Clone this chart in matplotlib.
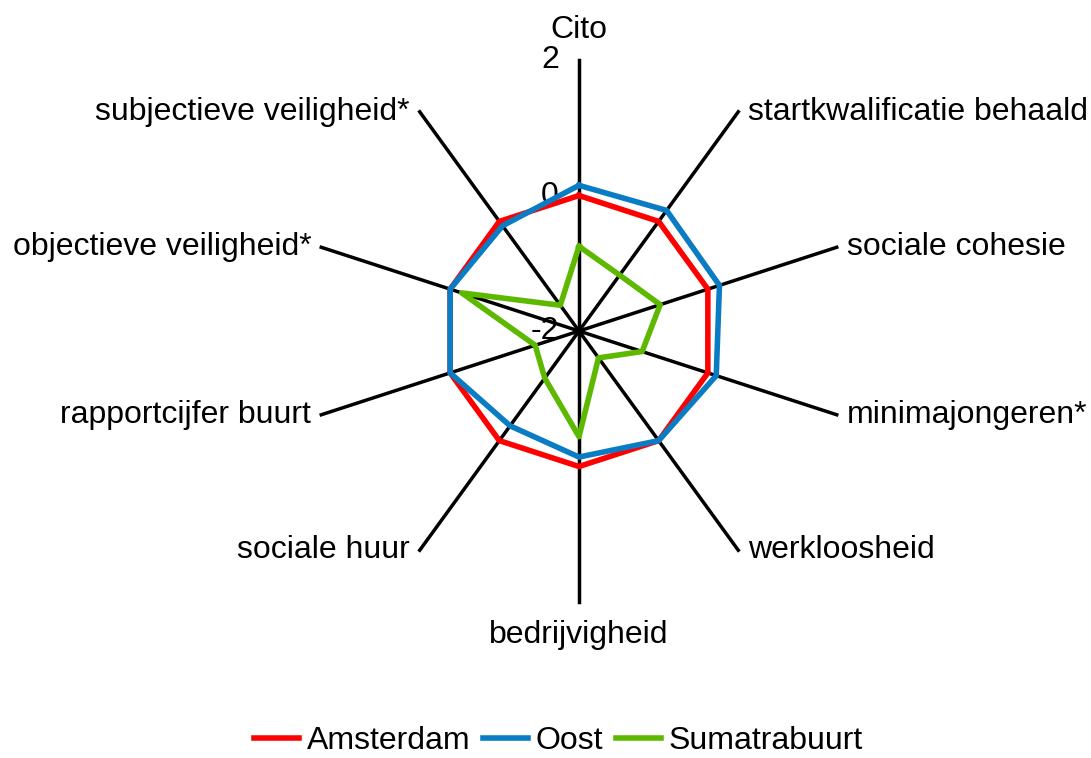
import numpy as np
import matplotlib.pyplot as plt

plt.rcParams['font.family'] = ['Liberation Sans', 'DejaVu Sans']

categories = ['Cito', 'startkwalificatie behaald', 'sociale cohesie', 'minimajongeren*',
              'werkloosheid', 'bedrijvigheid', 'sociale huur', 'rapportcijfer buurt',
              'objectieve veiligheid*', 'subjectieve veiligheid*']
amsterdam = [0.0, 0.0, 0.0, 0.0, 0.0, 0.0, 0.0, 0.0, 0.0, 0.0]
oost = [0.15, 0.2, 0.18, 0.13, 0.0, -0.14, -0.27, 0.0, 0.0, -0.08]
sumatrabuurt = [-0.75, -0.98, -0.74, -1.02, -1.51, -0.44, -1.14, -1.32, -0.18, -1.53]
r_ticks = [-2, 0, 2]

series = [('Amsterdam', amsterdam, '#FF0000'),
          ('Oost', oost, '#0A7CC4'),
          ('Sumatrabuurt', sumatrabuurt, '#5DB900')]

n = len(categories)
theta = np.linspace(0, 2 * np.pi, n, endpoint=False)

fig = plt.figure(figsize=(10.91, 7.58), dpi=100)
ax = fig.add_axes([0.2823, 0.2058, 0.4968, 0.715], projection='polar')
ax.set_theta_zero_location('N')
ax.set_theta_direction(-1)
ax.set_ylim(-2, 2)
ax.set_xticks([])
ax.set_yticks([])
ax.grid(False)
ax.spines['polar'].set_visible(False)
ax.patch.set_visible(False)

fs = 23

# spokes
for t in theta:
    ax.plot([t, t], [-2, 2], color='black', lw=2.5, zorder=1, clip_on=False)

# series
for name, vals, col in series:
    v = list(vals) + [vals[0]]
    t = list(theta) + [theta[0]]
    ax.plot(t, v, color=col, lw=4, label=name, zorder=2, clip_on=False)

# category labels
for t, lab in zip(theta, categories):
    deg = np.degrees(t)
    if np.isclose(deg, 0):
        ax.annotate(lab, (t, 2), xytext=(0, 22), textcoords='offset pixels',
                    ha='center', va='baseline', fontsize=fs)
    elif np.isclose(deg, 180):
        ax.annotate(lab, (t, 2), xytext=(0, -18), textcoords='offset pixels',
                    ha='center', va='top', fontsize=fs)
    elif deg < 180:
        ax.annotate(lab, (t, 2), xytext=(10, 0), textcoords='offset pixels',
                    ha='left', va='center', fontsize=fs)
    else:
        ax.annotate(lab, (t, 2), xytext=(-10, 0), textcoords='offset pixels',
                    ha='right', va='center', fontsize=fs)

# radial tick labels
for r in r_ticks:
    ax.annotate(str(r), (0, r), xytext=(-20, 0), textcoords='offset pixels',
                ha='right', va='center', fontsize=fs, zorder=0)

fig.legend(loc='lower center', bbox_to_anchor=(0.512, 0.003), ncol=3, frameon=False,
           fontsize=fs, handlelength=1.4, handletextpad=0.25, columnspacing=0.4,
           borderpad=0, borderaxespad=0)

fig.savefig('out.png', dpi=100)
